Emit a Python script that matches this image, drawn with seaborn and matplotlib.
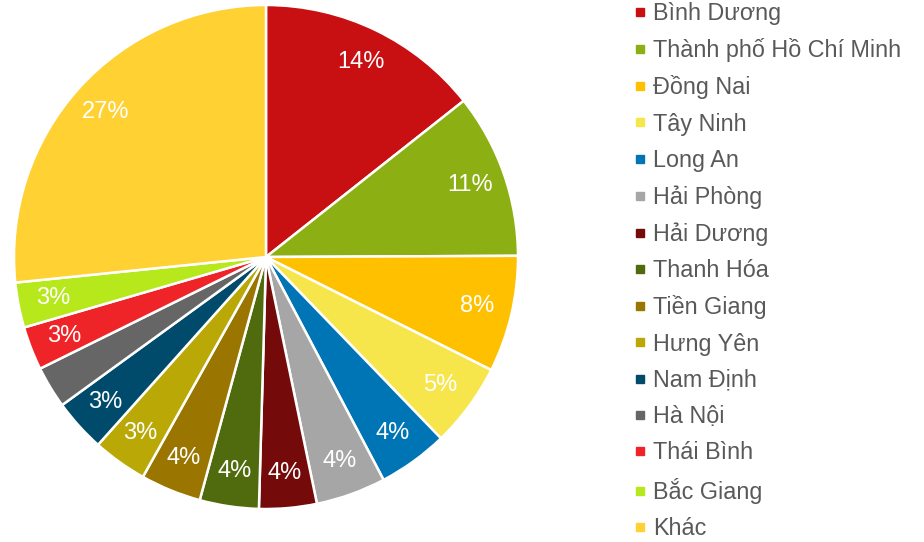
import matplotlib
matplotlib.use("Agg")
import matplotlib.pyplot as plt
import seaborn as sns
import numpy as np
from matplotlib.lines import Line2D

# data (share in %)
provinces = ["Bình Dương", "Thành phố Hồ Chí Minh", "Đồng Nai", "Tây Ninh", "Long An",
             "Hải Phòng", "Hải Dương", "Thanh Hóa", "Tiền Giang", "Hưng Yên",
             "Nam Định", "Hà Nội", "Thái Bình", "Bắc Giang", "Khác"]
shares = [14.4, 10.6, 7.5, 5.4, 4.5, 4.5, 3.7, 3.8, 3.9, 3.5, 3.4, 2.7, 2.8, 2.9, 26.7]
shown_labels = ["14%", "11%", "8%", "5%", "4%", "4%", "4%", "4%", "4%", "3%",
                "3%", "", "3%", "3%", "27%"]
colors = ["#C80F12", "#8CB013", "#FFC000", "#F7E64B", "#0075B5", "#A6A6A6",
          "#750A0A", "#506A0E", "#9A7500", "#B9A805", "#004A6C", "#666666",
          "#EE2428", "#B6E81B", "#FFD133"]

sns.set_theme(style="white")
plt.rcParams["font.family"] = ["Liberation Sans", "DejaVu Sans"]
palette = sns.color_palette(colors)

fig = plt.figure(figsize=(9.24, 5.42), dpi=100)
ax = fig.add_axes([14 / 924, 1 - 509 / 542, 504 / 924, 504 / 542])

wedges, texts = ax.pie(shares, colors=palette, startangle=90, counterclock=False,
                       radius=1, wedgeprops=dict(edgecolor="white", linewidth=1.8))

# percentage labels inside the slices
for w, lab in zip(wedges, shown_labels):
    ang = np.deg2rad((w.theta1 + w.theta2) / 2)
    r = 0.86
    ax.text(r * np.cos(ang), r * np.sin(ang), lab, ha="center", va="center",
            color="white", fontsize=17)

ax.set_xlim(-1, 1)
ax.set_ylim(-1, 1)
ax.set_aspect("equal")

handles = [Line2D([], [], marker="s", linestyle="none", markersize=6,
                  markerfacecolor=c, markeredgecolor=c) for c in colors]
fig.legend(handles, provinces, loc="upper left", bbox_to_anchor=(625 / 924, 1.014),
           frameon=False, fontsize=16.8, labelcolor="#595959", handlelength=0.5,
           handletextpad=0.3, labelspacing=0.57, borderaxespad=0)

fig.savefig("out.png", dpi=100)
